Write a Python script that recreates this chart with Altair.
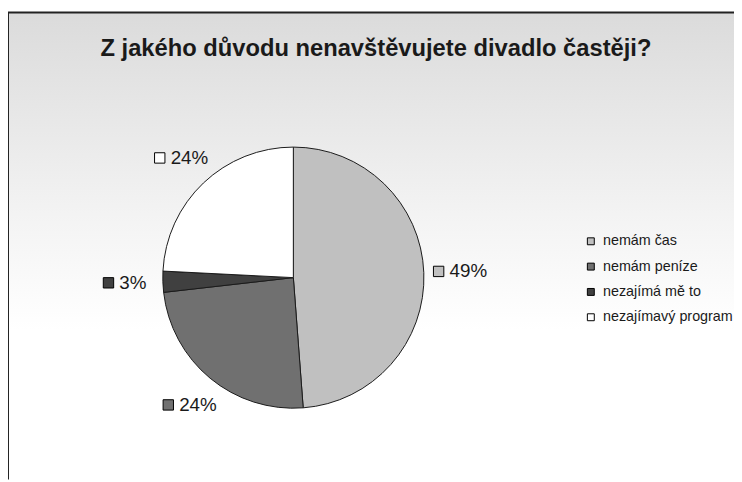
import altair as alt
import pandas as pd

title_text = "Z jakého důvodu nenavštěvujete divadlo častěji?"
categories = ["nemám čas", "nemám peníze", "nezajímá mě to", "nezajímavý program"]
values = [48.8, 24.4, 2.6, 24.2]
labels = ["49%", "24%", "3%", "24%"]
colors = ["#C0C0C0", "#707070", "#404040", "#FFFFFF"]

W, H = 734, 472
CX, CY = 288.5, 268
R = 132
LR = 167
FONT = "Liberation Sans"

df = pd.DataFrame({"cat": categories, "value": values, "label": labels,
                   "idx": list(range(len(categories)))})

color_scale = alt.Scale(domain=categories, range=colors)

grad = alt.LinearGradient(
    gradient="linear", x1=0, x2=0, y1=0, y2=1,
    stops=[alt.GradientStop(color="#DBDBDB", offset=0),
           alt.GradientStop(color="#F4F4F4", offset=0.45),
           alt.GradientStop(color="#FFFFFF", offset=0.68),
           alt.GradientStop(color="#FFFFFF", offset=1)])

one = alt.Data(values=[{"t": title_text}])

bg = alt.Chart(one).mark_rect(color=grad).encode(
    x=alt.value(0), x2=alt.value(W), y=alt.value(0), y2=alt.value(H))

top_rule = alt.Chart(one).mark_rule(color="#222222", strokeWidth=2).encode(
    x=alt.value(0), x2=alt.value(W), y=alt.value(0))
left_rule = alt.Chart(one).mark_rule(color="#222222", strokeWidth=2).encode(
    x=alt.value(0), y=alt.value(0), y2=alt.value(H))

title = alt.Chart(one).mark_text(
    font=FONT, fontSize=24, fontWeight="bold", align="center",
    baseline="alphabetic", color="#1a1a1a").encode(
    x=alt.value(372), y=alt.value(44), text="t:N")

base = alt.Chart(df).encode(
    theta=alt.Theta("value:Q", stack=True),
    order=alt.Order("idx:Q"),
    x=alt.value(CX), y=alt.value(CY))

pie = base.mark_arc(radius=R, stroke="#1a1a1a", strokeWidth=1).encode(
    color=alt.Color("cat:N", scale=color_scale, sort=categories,
                    legend=alt.Legend(
                        orient="none", legendX=582, legendY=224, title=None,
                        symbolType="square", symbolSize=49,
                        symbolStrokeColor="black", symbolStrokeWidth=1,
                        labelFont=FONT, labelFontSize=14.5, labelColor="#1a1a1a",
                        rowPadding=10.6, labelOffset=5, padding=0,
                        labelLimit=200)))

# label marker squares, placed at the mid-angle of each slice
sq = alt.Chart(df).transform_joinaggregate(
    total="sum(value)"
).transform_window(
    cum="sum(value)", sort=[alt.SortField("idx")], frame=[None, 0]
).transform_calculate(
    mid="(datum.cum - datum.value / 2) / datum.total * 2 * PI",
    sx=f"{CX} + {LR} * sin(datum.mid) - 20",
    sy=f"{CY} - {LR} * cos(datum.mid)",
).mark_square(size=110, stroke="black", strokeWidth=1, opacity=1, filled=True).encode(
    x=alt.X("sx:Q", scale=None, axis=None),
    y=alt.Y("sy:Q", scale=None, axis=None),
    fill=alt.Fill("cat:N", scale=color_scale, legend=None))

txt = base.mark_text(radius=LR, font=FONT, fontSize=19, color="#1a1a1a",
                     dx=-9, align="left", baseline="middle").encode(
    text="label:N")

chart = alt.layer(bg, top_rule, left_rule, title, pie, sq, txt).properties(
    width=W, height=H,
    autosize=alt.AutoSizeParams(type="none"),
    padding={"left": 0, "top": 2, "right": 0, "bottom": 0}
).configure_view(stroke=None)

chart.save("out.html", embed_options={"renderer": "svg", "actions": False})
